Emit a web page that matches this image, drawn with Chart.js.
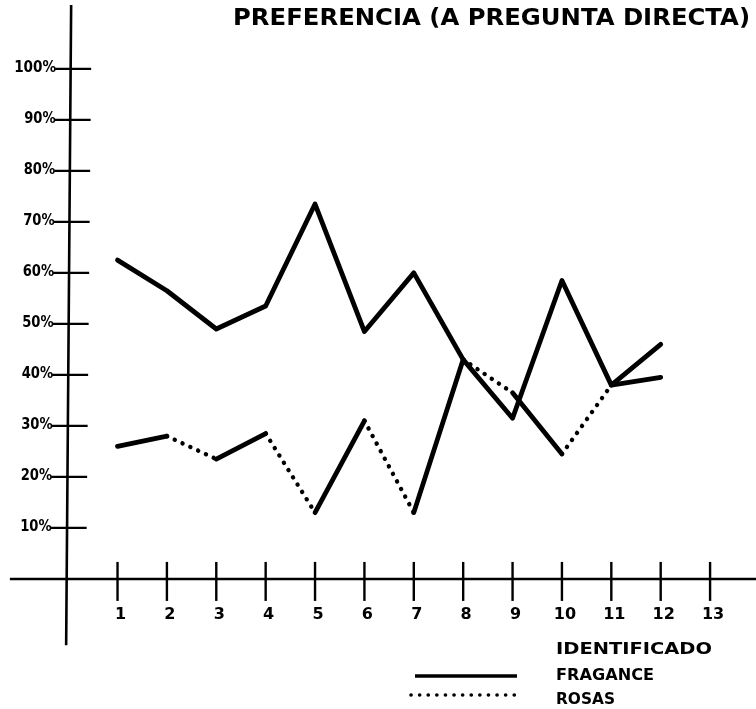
<!DOCTYPE html>
<html>
<head>
<meta charset="utf-8">
<script src="https://cdn.jsdelivr.net/npm/chart.js@4.4.1/dist/chart.umd.min.js"></script>
<style>
  html, body { margin: 0; padding: 0; background: #fff; }
  canvas { display: block; }
</style>
</head>
<body>
<canvas id="chart" width="756" height="709"></canvas>
<script>
// chart values
const title = "PREFERENCIA (A PREGUNTA DIRECTA)";
const muestras = [1, 2, 3, 4, 5, 6, 7, 8, 9, 10, 11, 12];
const xTickLabels = ["1", "2", "3", "4", "5", "6", "7", "8", "9", "10", "11", "12", "13"];
const yTickLabels = ["10%", "20%", "30%", "40%", "50%", "60%", "70%", "80%", "90%", "100%"];
const yTickValues = [10, 20, 30, 40, 50, 60, 70, 80, 90, 100];

const serieAlta = [62.5, 56.5, 49, 53.5, 73.5, 48.5, 60, 43, 31.5, 58.5, 38, 46];
const serieBaja = [26, 28, 23.5, 28.5, 13, 31, 13, 43, 36.5, 24.5, 38, 39.5];
// true = tramo punteado (ROSAS), false = tramo continuo (FRAGANCE)
const tramosAlta = [false, false, false, false, false, false, false, false, false, false, false];
const tramosBaja = [false, true, false, true, false, true, false, true, false, true, false];

const legendTitle = "IDENTIFICADO";
const legendLabels = ["FRAGANCE", "ROSAS"];

const DOTS = [0.1, 8.5];

function fitText(ctx, text, x, y, width, font, align) {
  ctx.save();
  ctx.font = font;
  const w = ctx.measureText(text).width;
  const s = width / w;
  ctx.translate(x, y);
  ctx.scale(s, 1);
  ctx.textAlign = align || "left";
  ctx.textBaseline = "middle";
  ctx.fillText(text, 0, 0);
  ctx.restore();
}

// hand drawn style axes, ticks, title and legend
const handAxes = {
  id: "handAxes",
  beforeDatasetsDraw(chart) {
    const ctx = chart.ctx;
    const xs = chart.scales.x;
    const ys = chart.scales.y;
    const x0 = xs.getPixelForValue(0);
    const y0 = ys.getPixelForValue(0);

    ctx.save();
    ctx.strokeStyle = "#000";
    ctx.fillStyle = "#000";
    ctx.lineCap = "butt";

    // axes
    ctx.lineWidth = 2.6;
    ctx.beginPath();
    ctx.moveTo(xs.getPixelForValue(-1.18), y0);
    ctx.lineTo(xs.getPixelForValue(14), y0);
    ctx.moveTo(x0 + 3, ys.getPixelForValue(112.5));
    ctx.lineTo(x0 - 2, ys.getPixelForValue(-13));
    ctx.stroke();

    // y ticks
    ctx.lineWidth = 2.2;
    yTickValues.forEach((v, i) => {
      const py = ys.getPixelForValue(v);
      const ax = x0 - 2 + (v / 100) * 5;
      ctx.beginPath();
      ctx.moveTo(ax - 16, py);
      ctx.lineTo(ax + 20, py);
      ctx.stroke();
      const w = yTickLabels[i].length * 10.5;
      fitText(ctx, yTickLabels[i], ax - 15, py - 1, w, "bold 15px 'DejaVu Sans'", "right");
    });

    // x ticks
    xTickLabels.forEach((lab, i) => {
      const px = xs.getPixelForValue(i + 1);
      ctx.lineWidth = 2.4;
      ctx.beginPath();
      ctx.moveTo(px, y0 - 17);
      ctx.lineTo(px, y0 + 22);
      ctx.stroke();
      ctx.font = "bold 16px 'DejaVu Sans'";
      ctx.textAlign = "center";
      ctx.textBaseline = "middle";
      ctx.fillText(lab, px + 3, y0 + 36);
    });

    // title
    fitText(ctx, title, 233, 19, 517, "bold 23px 'DejaVu Sans'");

    // legend
    const lx = 556;
    const lf = "bold 15px 'DejaVu Sans'";
    fitText(ctx, legendTitle, lx, 650, 156, lf);
    fitText(ctx, legendLabels[0], lx, 676, 98, lf);
    fitText(ctx, legendLabels[1], lx, 700, 59, lf);

    ctx.lineWidth = 3.6;
    ctx.beginPath();
    ctx.moveTo(415, 676);
    ctx.lineTo(517, 676);
    ctx.stroke();

    ctx.lineWidth = 3.6;
    ctx.lineCap = "round";
    ctx.setLineDash(DOTS);
    ctx.beginPath();
    ctx.moveTo(411, 695);
    ctx.lineTo(517, 695);
    ctx.stroke();
    ctx.restore();
  }
};

function serie(values, tramos) {
  return {
    data: values.map((v, i) => ({ x: muestras[i], y: v })),
    borderColor: "#000",
    borderWidth: 4.8,
    borderCapStyle: "round",
    borderJoinStyle: "round",
    pointRadius: 0,
    tension: 0,
    segment: {
      borderDash: c => (tramos[c.p0DataIndex] ? DOTS : undefined),
      borderWidth: c => (tramos[c.p0DataIndex] ? 4.4 : 4.8)
    }
  };
}

new Chart(document.getElementById("chart"), {
  type: "line",
  data: {
    datasets: [serie(serieAlta, tramosAlta), serie(serieBaja, tramosBaja)]
  },
  options: {
    responsive: false,
    animation: false,
    layout: { padding: 0 },
    plugins: {
      legend: { display: false },
      tooltip: { enabled: false }
    },
    scales: {
      x: { type: "linear", display: false, min: -1.38, max: 13.93 },
      y: { type: "linear", display: false, min: -25.5, max: 113.5 }
    }
  },
  plugins: [handAxes]
});
</script>
</body>
</html>
